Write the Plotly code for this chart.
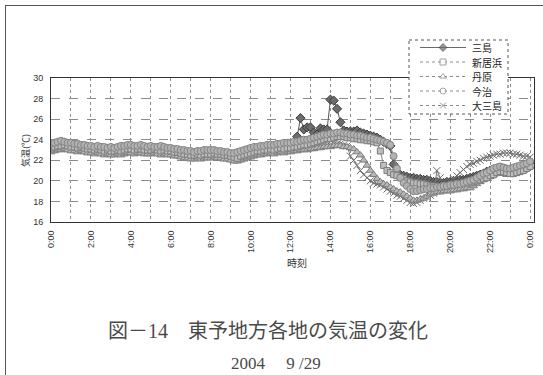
import plotly.graph_objects as go

W, H = 543, 375

# Observation times: every 10 minutes from 0:00 to 24:00, in hours
minutes = list(range(0, 24 * 60 + 1, 10))
hours = [m / 60 for m in minutes]

# Air temperature (deg C), one row per hour (:00 :10 :20 :30 :40 :50), last value = 24:00
mishima = [
    23.4, 23.5, 23.6, 23.6, 23.7, 23.6,
    23.5, 23.5, 23.4, 23.4, 23.3, 23.3,
    23.2, 23.2, 23.3, 23.2, 23.1, 23.1,
    23.1, 23.0, 23.1, 23.2, 23.2, 23.3,
    23.3, 23.2, 23.2, 23.3, 23.2, 23.2,
    23.2, 23.1, 23.2, 23.1, 23.1, 23.0,
    23.0, 22.9, 22.9, 22.8, 22.8, 22.7,
    22.7, 22.7, 22.8, 22.7, 22.8, 22.8,
    22.8, 22.8, 22.7, 22.7, 22.6, 22.6,
    22.5, 22.5, 22.6, 22.7, 22.8, 22.9,
    23.0, 23.0, 23.1, 23.2, 23.2, 23.3,
    23.3, 23.3, 23.4, 23.4, 23.5, 23.5,
    23.5, 23.6, 24.3, 26.1, 25.0, 25.2,
    25.2, 24.7, 24.5, 25.1, 25.0, 25.0,
    27.9, 27.8, 27.0, 25.7, 24.9, 24.8,
    24.8, 24.8, 24.9, 24.7, 24.6, 24.5,
    24.4, 24.3, 24.2, 24.0, 23.8, 23.6,
    23.4, 21.6, 20.7, 20.6, 20.5, 20.4,
    20.3, 20.3, 20.2, 20.2, 20.1, 20.1,
    20.0, 19.9, 19.9, 19.8, 19.8, 19.9,
    19.9, 20.0, 20.0, 20.1, 20.1, 20.2,
    20.3, 20.4, 20.5, 20.6, 20.7, 20.9,
    21.0, 21.1, 21.2, 21.3, 21.2, 21.1,
    21.0, 21.1, 21.2, 21.3, 21.5, 21.6,
    21.8,
]

niihama = [
    23.2, 23.3, 23.4, 23.4, 23.5, 23.4,
    23.3, 23.3, 23.2, 23.3, 23.2, 23.1,
    23.1, 23.0, 23.1, 23.0, 22.9, 23.0,
    22.9, 22.9, 23.0, 22.9, 23.0, 23.1,
    23.1, 23.0, 23.1, 23.1, 23.0, 23.0,
    23.0, 23.1, 23.0, 22.9, 23.0, 22.9,
    22.9, 22.8, 22.8, 22.7, 22.6, 22.6,
    22.5, 22.5, 22.6, 22.5, 22.6, 22.6,
    22.6, 22.7, 22.6, 22.6, 22.5, 22.5,
    22.4, 22.3, 22.2, 22.4, 22.5, 22.6,
    22.7, 22.8, 22.9, 22.9, 23.0, 23.0,
    23.1, 23.0, 23.1, 23.2, 23.1, 23.2,
    23.2, 23.3, 23.3, 23.4, 23.5, 23.5,
    23.6, 23.7, 23.8, 23.9, 24.0, 24.1,
    24.1, 24.2, 24.3, 24.3, 24.3, 24.2,
    24.2, 24.1, 24.1, 24.0, 24.0, 23.9,
    23.9, 23.8, 23.7, 22.9, 21.5, 21.0,
    20.8, 20.6, 20.5, 20.3, 20.2, 20.0,
    19.9, 19.8, 19.8, 19.7, 19.7, 19.6,
    19.5, 19.5, 19.4, 19.4, 19.5, 19.5,
    19.6, 19.6, 19.7, 19.7, 19.8, 19.8,
    19.8, 19.9, 20.0, 20.1, 20.2, 20.3,
    20.5, 20.6, 20.8, 20.9, 20.9, 20.8,
    20.7, 20.7, 20.8, 20.9, 21.0, 21.2,
    21.4,
]

tanbara = [
    22.8, 22.9, 23.0, 23.0, 23.1, 23.0,
    22.9, 22.9, 22.8, 22.9, 22.8, 22.7,
    22.7, 22.6, 22.7, 22.6, 22.5, 22.6,
    22.5, 22.5, 22.6, 22.5, 22.6, 22.7,
    22.7, 22.6, 22.7, 22.7, 22.6, 22.6,
    22.6, 22.7, 22.6, 22.5, 22.6, 22.5,
    22.5, 22.4, 22.4, 22.3, 22.2, 22.2,
    22.1, 22.1, 22.2, 22.1, 22.2, 22.2,
    22.2, 22.3, 22.2, 22.2, 22.1, 22.1,
    22.0, 21.9, 21.9, 22.0, 22.1, 22.2,
    22.3, 22.4, 22.5, 22.5, 22.6, 22.6,
    22.7, 22.6, 22.7, 22.8, 22.7, 22.8,
    22.8, 22.9, 22.9, 23.0, 23.0, 23.0,
    23.1, 23.1, 23.2, 23.2, 23.3, 23.3,
    23.3, 23.4, 23.4, 23.4, 23.3, 23.3,
    23.2, 23.1, 22.8, 22.5, 22.0, 21.5,
    21.0, 20.6, 20.2, 19.9, 19.7, 19.6,
    19.4, 19.2, 19.0, 18.9, 18.7, 18.5,
    18.3, 18.1, 18.1, 18.2, 18.3, 18.5,
    18.7, 18.8, 18.9, 18.9, 19.0, 19.0,
    19.0, 19.1, 19.1, 19.2, 19.2, 19.3,
    19.3, 19.5, 19.7, 19.9, 20.1, 20.3,
    20.4, 20.6, 20.8, 20.8, 20.7, 20.6,
    20.6, 20.7, 20.8, 20.9, 21.0, 21.2,
    21.4,
]

imabari = [
    23.6, 23.7, 23.8, 23.9, 23.8, 23.7,
    23.7, 23.6, 23.6, 23.5, 23.5, 23.4,
    23.4, 23.3, 23.4, 23.3, 23.3, 23.2,
    23.3, 23.2, 23.3, 23.4, 23.4, 23.5,
    23.5, 23.4, 23.4, 23.5, 23.4, 23.3,
    23.4, 23.3, 23.3, 23.4, 23.3, 23.2,
    23.2, 23.1, 23.1, 23.0, 23.0, 22.9,
    22.9, 22.8, 22.9, 22.9, 23.0, 23.0,
    23.0, 23.0, 22.9, 22.9, 22.8, 22.8,
    22.7, 22.7, 22.8, 22.9, 23.0, 23.1,
    23.2, 23.3, 23.3, 23.4, 23.4, 23.5,
    23.5, 23.5, 23.6, 23.6, 23.7, 23.7,
    23.7, 23.8, 23.8, 23.9, 24.0, 24.0,
    24.1, 24.2, 24.3, 24.4, 24.5, 24.5,
    24.6, 24.6, 24.7, 24.7, 24.6, 24.6,
    24.5, 24.5, 24.4, 24.4, 24.3, 24.2,
    24.2, 24.1, 24.0, 23.9, 23.8, 23.7,
    23.5, 22.4, 21.2, 20.3, 19.8, 19.5,
    19.2, 19.0, 19.0, 19.1, 19.2, 19.2,
    19.3, 19.3, 19.4, 19.4, 19.5, 19.5,
    19.6, 19.6, 19.7, 19.7, 19.8, 19.9,
    20.0, 20.1, 20.3, 20.5, 20.7, 20.8,
    21.0, 21.2, 21.3, 21.4, 21.3, 21.2,
    21.2, 21.3, 21.4, 21.5, 21.6, 21.7,
    21.9,
]

omishima = [
    23.0, 23.1, 23.2, 23.2, 23.3, 23.2,
    23.1, 23.1, 23.0, 23.1, 23.0, 22.9,
    22.9, 22.8, 22.9, 22.8, 22.7, 22.8,
    22.7, 22.7, 22.8, 22.7, 22.8, 22.9,
    22.9, 22.8, 22.9, 22.9, 22.8, 22.8,
    22.8, 22.9, 22.8, 22.7, 22.8, 22.7,
    22.7, 22.6, 22.6, 22.5, 22.4, 22.4,
    22.3, 22.3, 22.4, 22.3, 22.4, 22.4,
    22.4, 22.5, 22.4, 22.4, 22.3, 22.3,
    22.2, 22.1, 22.1, 22.2, 22.3, 22.4,
    22.5, 22.6, 22.7, 22.7, 22.8, 22.8,
    22.9, 22.8, 22.9, 23.0, 22.9, 23.0,
    23.0, 23.1, 23.1, 23.2, 23.2, 23.2,
    23.3, 23.3, 23.4, 23.4, 23.5, 23.5,
    23.5, 23.6, 23.6, 23.6, 23.5, 23.4,
    22.4, 22.0, 21.5, 21.0, 20.6, 20.3,
    20.0, 19.8, 19.7, 19.6, 19.4, 19.2,
    19.0, 18.8, 18.6, 18.5, 18.3, 18.1,
    17.9, 17.8, 17.9, 18.1, 18.3, 18.4,
    18.6, 18.8, 21.0, 20.3, 19.4, 19.6,
    19.9, 20.2, 20.5, 20.8, 21.1, 21.4,
    21.6, 21.7, 21.9, 22.0, 22.2, 22.3,
    22.4, 22.5, 22.6, 22.6, 22.7, 22.7,
    22.7, 22.6, 22.6, 22.5, 22.4, 22.4,
    22.3,
]

station_names = ["三島", "新居浜", "丹原", "今治", "大三島"]
station_values = [mishima, niihama, tanbara, imabari, omishima]

# x-axis ticks: a gridline every hour, a label every 2 hours
tick_hours = list(range(0, 25))
tick_text = [f"{h % 24}:00" if h % 2 == 0 else "" for h in tick_hours]

# marker styles per station
styles = {
    "三島": dict(symbol="diamond", size=7, color="#6c6c6c", line=dict(color="#3a3a3a", width=1)),
    "新居浜": dict(symbol="square", size=6, color="#bdbdbd", line=dict(color="#7c7c7c", width=1)),
    "丹原": dict(symbol="triangle-up", size=7, color="#b8b8b8", line=dict(color="#7c7c7c", width=1)),
    "今治": dict(symbol="circle", size=7, color="#b2b2b2", line=dict(color="#848484", width=1)),
    "大三島": dict(symbol="x-thin-open", size=7, color="#6a6a6a", line=dict(color="#6a6a6a", width=1)),
}
legend_fill = {"三島": "#6c6c6c", "新居浜": "#ffffff", "丹原": "#ffffff",
               "今治": "#ffffff", "大三島": "#6a6a6a"}
line_colors = {"三島": "#555555", "新居浜": "#858585", "丹原": "#858585",
               "今治": "#929292", "大三島": "#767676"}

fig = go.Figure()

draw_order = ["三島", "大三島", "丹原", "新居浜", "今治"]
for name in draw_order:
    vals = station_values[station_names.index(name)]
    fig.add_trace(go.Scatter(
        x=hours, y=vals, mode="lines+markers", name=name,
        line=dict(color=line_colors[name], width=1),
        marker=styles[name], showlegend=False,
        xaxis="x", yaxis="y",
    ))

# ---- legend drawn in a pixel-space overlay ----
LEG_BOX = (409, 40, 508, 114)
LEG_ROW0, LEG_STEP = 47.5, 14.5
LEG_LINE = (420, 443, 466)
LEG_TEXT_X = 470

x0, y0, x1, y1 = LEG_BOX
fig.add_trace(go.Scatter(
    x=[x0, x1, x1, x0, x0], y=[y0, y0, y1, y1, y0], mode="lines",
    fill="toself", fillcolor="white",
    line=dict(color="#555555", width=1, dash="dot"),
    showlegend=False, hoverinfo="skip", xaxis="x2", yaxis="y2",
))
annotations = []
for i, name in enumerate(station_names):
    yy = LEG_ROW0 + LEG_STEP * i
    st = styles[name]
    fig.add_trace(go.Scatter(
        x=list(LEG_LINE), y=[yy, yy, yy], mode="lines+markers",
        line=dict(color="#6a6a6a" if i == 0 else "#8a8a8a", width=1,
                  dash="solid" if i == 0 else "dot"),
        marker=dict(symbol=st["symbol"], size=[0, 6, 0],
                    color=legend_fill[name], line=st["line"]),
        showlegend=False, hoverinfo="skip", xaxis="x2", yaxis="y2",
    ))
    annotations.append(dict(
        x=LEG_TEXT_X / W, y=1 - yy / H, xref="paper", yref="paper",
        text=name, showarrow=False, xanchor="left", yanchor="middle",
        font=dict(family="Noto Sans CJK JP", size=10, color="#222222"),
    ))

# ---- axis titles and captions ----
cap = dict(xref="paper", yref="paper", showarrow=False, xanchor="center", yanchor="middle")
annotations += [
    dict(x=25 / W, y=1 - 151 / H, text="気温(℃)", textangle=-90,
         font=dict(family="Noto Sans CJK JP", size=9, color="#333333"), **cap),
    dict(x=297 / W, y=1 - 262 / H, text="時刻",
         font=dict(family="Noto Sans CJK JP", size=10, color="#333333"), **cap),
    dict(x=268 / W, y=1 - 331 / H, text="図－14　東予地方各地の気温の変化",
         font=dict(family="Liberation Serif, Noto Sans CJK JP", size=20, color="#4a4a4a"), **cap),
    dict(x=276 / W, y=1 - 363 / H, text="2004　 9 /29",
         font=dict(family="Liberation Serif, Noto Sans CJK JP", size=17, color="#4a4a4a"), **cap),
]

# scanned page frame (top and left edges)
shapes = [
    dict(type="line", xref="paper", yref="paper", x0=5 / W, x1=1, y0=1 - 5.5 / H, y1=1 - 5.5 / H,
         line=dict(color="#555555", width=1)),
    dict(type="line", xref="paper", yref="paper", x0=5.5 / W, x1=5.5 / W, y0=0, y1=1 - 5 / H,
         line=dict(color="#555555", width=1)),
]

tick_font = dict(family="Liberation Sans, Noto Sans CJK JP", size=9, color="#333333")

fig.update_layout(
    width=W, height=H, autosize=False,
    margin=dict(l=0, r=0, t=0, b=0),
    paper_bgcolor="white", plot_bgcolor="rgba(0,0,0,0)",
    showlegend=False,
    annotations=annotations, shapes=shapes,
    xaxis=dict(
        domain=[51 / W, 534 / W], range=[0, 24.2],
        tickmode="array", tickvals=tick_hours, ticktext=tick_text,
        tickangle=-90, tickfont=tick_font, ticks="", ticklabelstandoff=4,
        showgrid=True, gridcolor="#8c8c8c", griddash="dot", gridwidth=1,
        showline=True, linecolor="#333333", linewidth=1, mirror=True,
        zeroline=False, automargin=False, anchor="y",
    ),
    yaxis=dict(
        domain=[1 - 222 / H, 1 - 78 / H], range=[16, 30], dtick=2,
        tickfont=tick_font, ticks="", ticklabelstandoff=5,
        showgrid=True, gridcolor="#8c8c8c", griddash="dash", gridwidth=1,
        showline=True, linecolor="#333333", linewidth=1, mirror=True,
        zeroline=False, automargin=False, anchor="x",
    ),
    xaxis2=dict(domain=[0, 1], range=[0, W], visible=False, anchor="y2", fixedrange=True),
    yaxis2=dict(domain=[0, 1], range=[H, 0], visible=False, anchor="x2", fixedrange=True),
)

fig.write_html("out.html")
